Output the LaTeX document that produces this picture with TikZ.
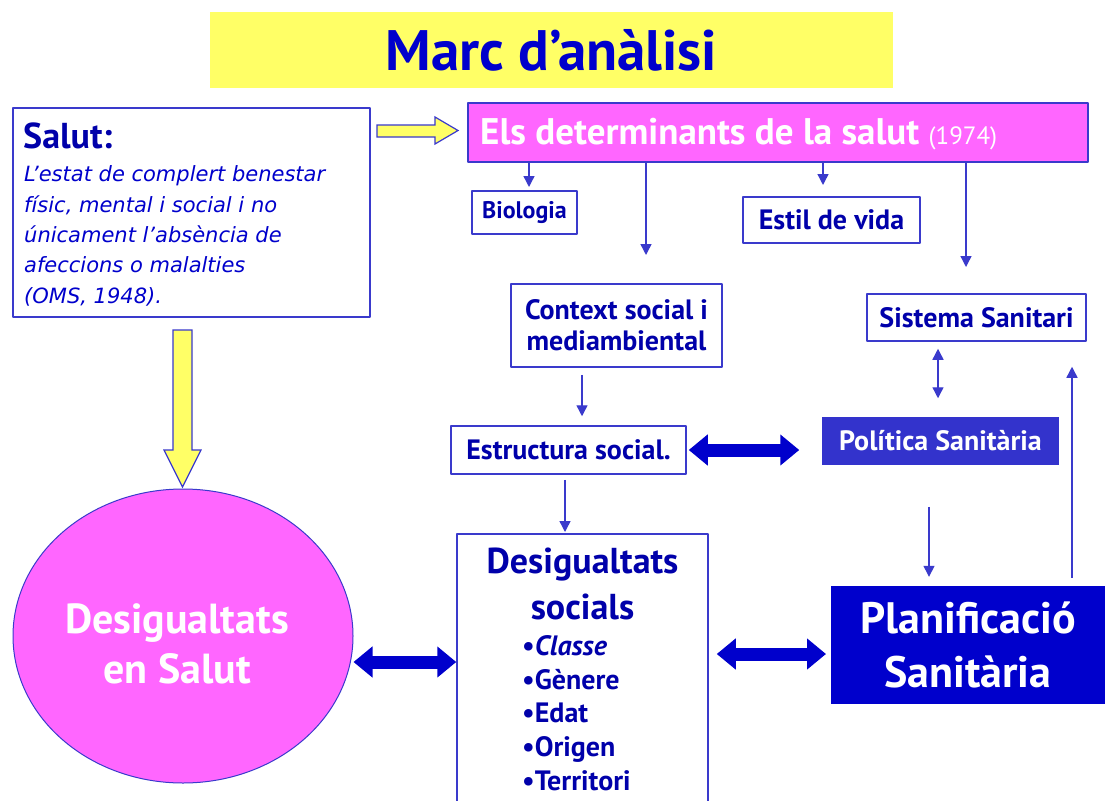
\documentclass[tikz,border=0pt]{standalone}
\usepackage{fontspec}
\setmainfont{PT Sans}
\newfontfamily\deffont{DejaVu Sans}
\usetikzlibrary{arrows.meta,shapes.geometric}
\definecolor{navy}{HTML}{0000AA}
\definecolor{rim}{HTML}{3A3ACC}
\definecolor{royal}{HTML}{0000CC}
\definecolor{polblue}{HTML}{3333CC}
\definecolor{pink}{HTML}{FF66FF}
\definecolor{lemon}{HTML}{FFFF66}
\tikzset{
lbl/.style={draw=rim,line width=1.5,fill=white,text=navy,align=center,inner sep=0,
  font=\bfseries\fontsize{28}{31}\selectfont},
arr/.style={draw=rim,line width=1.4,-{Triangle[length=11pt,width=11pt]}},
darr/.style={draw=rim,line width=1.4,{Triangle[length=11pt,width=11pt]}-{Triangle[length=11pt,width=11pt]}},
big/.style={draw=royal,line width=13,{Triangle[length=19pt,width=30pt]}-{Triangle[length=19pt,width=30pt]}},
hollow/.style={draw=rim,fill=lemon,line width=1.2,line join=miter}
}
\begin{document}
\begin{tikzpicture}[x=1pt,y=-1pt,line join=round]
\fill[white] (0,0) rectangle (1105,800);
\useasboundingbox (0,0) rectangle (1105,800);
\path
(529,187) coordinate (cbio)
(646,255) coordinate (cctx)
(823,185) coordinate (cest)
(966,267) coordinate (csis)
(582,0) coordinate (cestr)
(565,0) coordinate (cdsoc)
(938,0) coordinate (cpol)
(929,0) coordinate (cplan)
(1072,0) coordinate (cup)
(0,662) coordinate (ya)
(0,654) coordinate (yb)
;
% title
\node[fill=lemon,minimum width=683,minimum height=76,inner sep=0,text=royal,
  font=\bfseries\fontsize{57}{60}\selectfont] (title) at (551.5,50) {Marc d’anàlisi};
% definition
\node[draw=rim,line width=1.5,minimum width=357,minimum height=209,inner sep=0] (salut) at (191.5,212.5) {};
\node[anchor=base west,inner sep=0,text=navy,font=\bfseries\fontsize{36}{40}\selectfont] (saluttit) at (23,148) {Salut:};
\foreach \lab [count=\i] in {{L’estat de complert benestar},{físic, mental i social i no},
  {únicament l’absència de},{afeccions o malalties},{(OMS, 1948).}}
\node[anchor=base west,inner sep=0,text=royal,font=\deffont\itshape\fontsize{21}{24}\selectfont] (def\i) at (24,151.5+30.3*\i) {\lab};
% determinants
\node[draw=rim,line width=1.5,fill=pink,minimum width=620,minimum height=59,inner sep=0,anchor=west] (det) at (467,132.5) {};
\node[anchor=base west,inner sep=0,text=white,font=\bfseries\fontsize{37}{40}\selectfont] (dettxt) at (480,144)
  {Els determinants de la salut {\mdseries\fontsize{25}{28}\selectfont(1974)}};
\node[lbl,minimum width=105,minimum height=43,font=\bfseries\fontsize{24}{28}\selectfont] (bio) at (524.5,212.5) {Biologia};
\node[lbl,minimum width=177,minimum height=46] (estil) at (831.5,220) {Estil de vida};
\node[lbl,minimum width=211,minimum height=83] (ctx) at (616.5,325.5) {Context social i\\mediambiental};
\node[lbl,minimum width=219,minimum height=47] (sis) at (976.5,317.5) {Sistema Sanitari};
\node[lbl,minimum width=235,minimum height=48] (estr) at (568.5,450) {Estructura social.};
\node[lbl,fill=polblue,draw=none,text=white,minimum width=237,minimum height=48] (pol) at (940.5,441) {Política Sanitària};
% bottom row
\node[lbl,minimum width=251,minimum height=300,anchor=north] (dsoc) at (582.5,533) {};
\node[anchor=base,inner sep=0,text=navy,font=\bfseries\fontsize{36}{40}\selectfont] (dsoct1) at (582.5,573) {Desigualtats};
\node[anchor=base,inner sep=0,text=navy,font=\bfseries\fontsize{36}{40}\selectfont] (dsoct2) at (582.5,619) {socials};
\foreach \lab [count=\i] in {{\itshape Classe},Gènere,Edat,Origen,Territori}
\node[anchor=base west,inner sep=0,text=navy,font=\bfseries\fontsize{28}{30}\selectfont] (it\i) at (522,621.5+33.8*\i) {\textbullet\lab};
\node[fill=royal,minimum width=284,minimum height=118,anchor=west,inner sep=0] (plan) at (831,645) {};
\node[anchor=base,inner sep=0,text=white,font=\bfseries\fontsize{44}{48}\selectfont] (plan1) at (968,633) {Planificació};
\node[anchor=base,inner sep=0,text=white,font=\bfseries\fontsize{44}{48}\selectfont] (plan2) at (968,687) {Sanitària};
\node[ellipse,draw=rim,fill=pink,line width=1,minimum width=340,minimum height=294,inner sep=0] (ell) at (183,636) {};
\node[anchor=base,inner sep=0,text=white,font=\bfseries\fontsize{42}{46}\selectfont] (ell1) at (177,633) {Desigualtats};
\node[anchor=base,inner sep=0,text=white,font=\bfseries\fontsize{42}{46}\selectfont] (ell2) at (177,683) {en Salut};
% yellow arrows
\filldraw[hollow] (377,125) -- (435,125) -- (435,117) -- (458,130.5) -- (435,144) -- (435,137) -- (377,137) -- cycle;
\filldraw[hollow] (173,330) -- (192,330) -- (192,450) -- (201,450) -- (182.5,487) -- (164,450) -- (173,450) -- cycle;
% connectors
\foreach \c in {cbio,cctx,cest,csis}
\draw[arr] (det.south -| \c) -- (\c);
\draw[arr,shorten <=7,shorten >=9] (ctx.south -| cestr) -- (estr.north -| cestr);
\draw[arr,shorten <=5,shorten >=1] (estr.south -| cdsoc) -- (dsoc.north -| cdsoc);
\draw[darr,shorten <=7,shorten >=18] (sis.south -| cpol) -- (pol.north -| cpol);
\draw[arr,shorten <=41,shorten >=9] (pol.south -| cplan) -- (plan.north -| cplan);
\draw[arr,shorten <=8,shorten >=25] (plan.north -| cup) -- (sis.south -| cup);
\draw[big] (ell.east |- ya) -- (dsoc.west |- ya);
\draw[big,shorten <=2,shorten >=22] (estr.east) -- (pol.west |- estr.east);
\draw[big,shorten <=8,shorten >=5] (dsoc.east |- yb) -- (plan.west |- yb);
\end{tikzpicture}
\end{document}
